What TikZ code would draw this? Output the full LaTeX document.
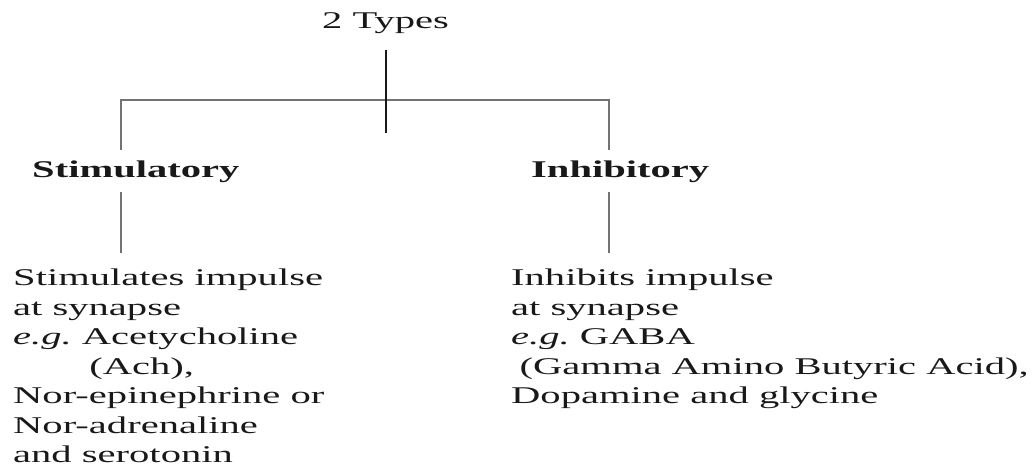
\documentclass[tikz,border=0pt]{standalone}
\usepackage{fontspec}
\setmainfont{Liberation Serif}
\usepackage{graphicx}
\frenchspacing
\newcommand{\wide}[1]{\scalebox{1.69}[1]{#1}}
\newcommand{\textblock}[1]{\wide{\parbox[t]{320pt}{\raggedright\fontsize{24}{29.5}\selectfont #1}}}
\tikzset{
  label text/.style={inner sep=0pt, font=\fontsize{24}{29.5}\selectfont, text=black!90},
  branch/.style={draw=black!55, line width=1.8pt},
  stem/.style={draw=black!90, line width=2.8pt}
}
\begin{document}
\begin{tikzpicture}[x=1pt,y=-1pt]
  \useasboundingbox (0,0) rectangle (1034,470);
  % headings
  \node[label text, anchor=base] (types) at (385.5,29) {\wide{2 Types}};
  \node[label text, anchor=base west] (stim) at (32,178) {\wide{\textbf{Stimulatory}}};
  \node[label text, anchor=base west] (inh) at (531,178) {\wide{\textbf{Inhibitory}}};
  % descriptions
  \node[label text, anchor=base west] (stimtext) at (13,286) {\textblock{%
    Stimulates impulse\\
    at synapse\\
    \textit{e.g.} Acetycholine\\
    \hspace*{45pt}(Ach),\\
    Nor-epinephrine or\\
    Nor-adrenaline\\
    and serotonin}};
  \node[label text, anchor=base west] (inhtext) at (511,286) {\textblock{%
    Inhibits impulse\\
    at synapse\\
    \textit{e.g.} GABA\\
    \hspace*{5pt}(Gamma Amino Butyric Acid),\\
    Dopamine and glycine}};
  % connector points
  \coordinate (stemtop) at (386,50);
  \coordinate (stembot) at (386,133);
  \coordinate (barL) at (121,100);
  \coordinate (barR) at (609,100);
  \coordinate (dropL) at (121,150);
  \coordinate (dropR) at (609,150);
  \coordinate (stimA) at (121,192);
  \coordinate (stimB) at (121,253);
  \coordinate (inhA) at (609,192);
  \coordinate (inhB) at (609,253);
  % tree lines
  \draw[branch] (dropL) -- (barL) -- (barR) -- (dropR);
  \draw[branch] (stimA) -- (stimB);
  \draw[branch] (inhA) -- (inhB);
  \draw[stem] (stemtop) -- (stembot);
\end{tikzpicture}
\end{document}
